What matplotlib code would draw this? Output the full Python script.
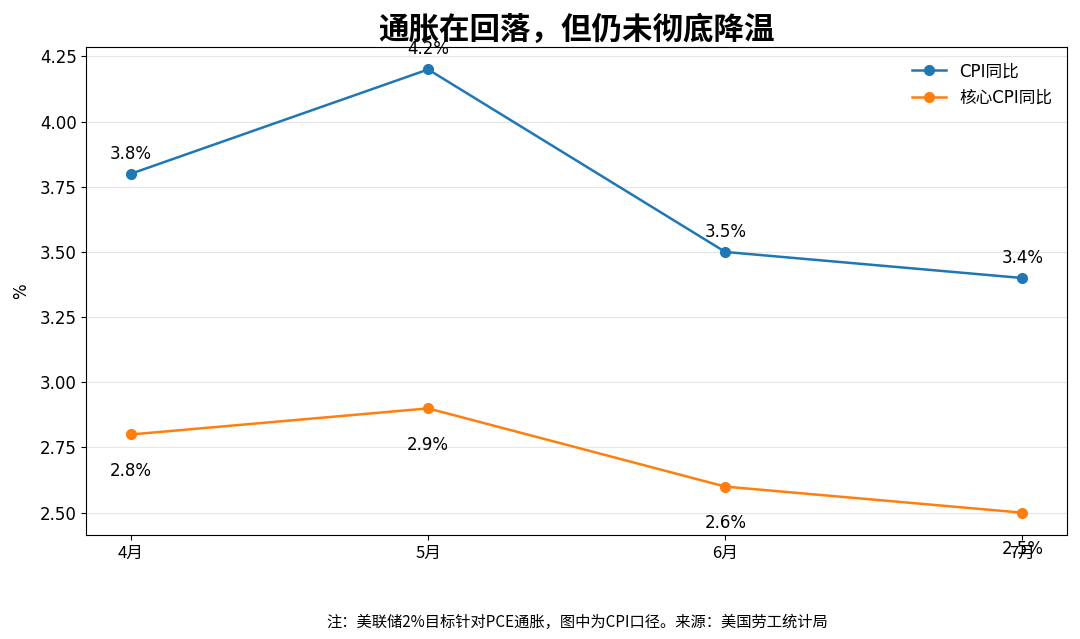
import matplotlib
matplotlib.use('Agg')
import matplotlib.pyplot as plt

plt.rcParams['font.family'] = ['DejaVu Sans', 'Noto Sans CJK SC']

months = ['4月', '5月', '6月', '7月']
cpi = [3.8, 4.2, 3.5, 3.4]
core_cpi = [2.8, 2.9, 2.6, 2.5]

fig, ax = plt.subplots(figsize=(10.8, 6.39), dpi=100)
x = list(range(len(months)))

ax.plot(x, cpi, marker='o', color='#1f77b4', linewidth=1.8, markersize=7, label='CPI同比')
ax.plot(x, core_cpi, marker='o', color='#ff7f0e', linewidth=1.8, markersize=7, label='核心CPI同比')

for xi, v in zip(x, cpi):
    ax.annotate(f'{v}%', (xi, v), xytext=(0, 8), textcoords='offset points',
                ha='center', va='bottom', fontsize=12)
for xi, v in zip(x, core_cpi):
    ax.annotate(f'{v}%', (xi, v), xytext=(0, -20), textcoords='offset points',
                ha='center', va='top', fontsize=12)

ax.set_xticks(x)
ax.set_xticklabels(months, family=['Noto Sans CJK SC', 'DejaVu Sans'], fontsize=12)
ax.tick_params(axis='y', labelsize=12)
ax.set_ylabel('%', fontsize=12, labelpad=7)
ax.grid(axis='y', color='#e5e5e5', linewidth=0.8)
ax.set_axisbelow(True)

ax.legend(loc='upper right', frameon=False,
          prop={'family': ['DejaVu Sans', 'Noto Sans CJK SC'], 'size': 12})

ax.set_title('通胀在回落，但仍未彻底降温', fontsize=22, fontweight='bold',
             family=['Noto Sans CJK SC', 'DejaVu Sans'], pad=6)

ax.text(0.5, -0.18, '注：美联储2%目标针对PCE通胀，图中为CPI口径。来源：美国劳工统计局',
        transform=ax.transAxes, ha='center', va='center', fontsize=11,
        family=['Noto Sans CJK SC', 'DejaVu Sans'])

fig.subplots_adjust(left=0.08, right=0.988, top=0.926, bottom=0.163)
fig.savefig('out.png', dpi=100)
